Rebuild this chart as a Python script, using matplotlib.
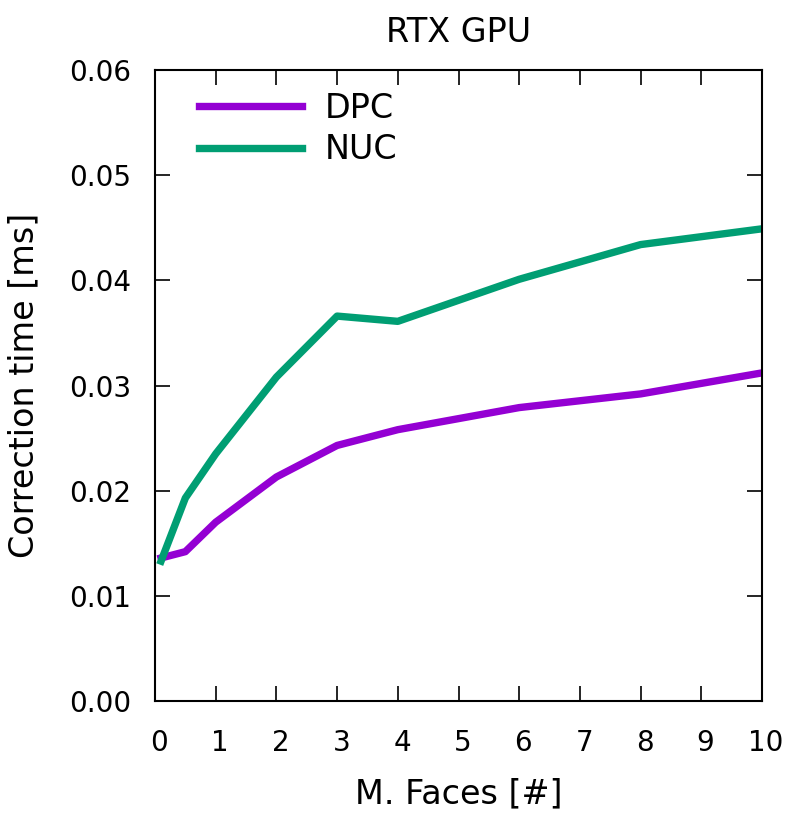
import matplotlib
matplotlib.use("Agg")
import matplotlib.pyplot as plt
from matplotlib.transforms import ScaledTranslation

# Data
faces = [0.1, 0.5, 1, 2, 3, 4, 6, 8, 10]
dpc_ms = [0.0136, 0.0142, 0.0170, 0.0213, 0.0243, 0.0258, 0.0279, 0.0292, 0.0312]
nuc_ms = [0.0133, 0.0193, 0.0235, 0.0308, 0.0366, 0.0361, 0.0401, 0.0434, 0.0449]

x_ticks = list(range(0, 11))
y_ticks = [0.00, 0.01, 0.02, 0.03, 0.04, 0.05, 0.06]

plt.rcParams["font.family"] = "DejaVu Sans"

fig = plt.figure(figsize=(7.97, 8.23), dpi=100)
ax = fig.add_axes([155 / 797, 1 - 701 / 823, (762 - 155) / 797, (701 - 70) / 823])

ax.plot(faces, dpc_ms, color="#9400D3", linewidth=5.3, label="DPC")
ax.plot(faces, nuc_ms, color="#009E73", linewidth=5.3, label="NUC")

ax.set_xlim(0, 10)
ax.set_ylim(0, 0.06)
ax.set_xticks(x_ticks)
ax.set_yticks(y_ticks)
ax.set_yticklabels([f"{v:.2f}" for v in y_ticks])
ax.tick_params(direction="in", length=11, width=1.2, labelsize=20,
               top=True, right=True)
ax.tick_params(axis="y", pad=17)
ax.tick_params(axis="x", pad=20)
# gnuplot puts x labels a touch right of the tick
for lab in ax.get_xticklabels():
    lab.set_transform(lab.get_transform() + ScaledTranslation(3 / 72, 0, fig.dpi_scale_trans))
for s in ax.spines.values():
    s.set_linewidth(1.5)

ax.set_xlabel("M. Faces [#]", fontsize=24, labelpad=15)
ax.set_ylabel("Correction time [ms]", fontsize=24, labelpad=21)
ax.set_title("RTX GPU", fontsize=24, pad=20)

ax.legend(loc="upper left", frameon=False, fontsize=24, handlelength=3.1,
          handletextpad=0.66, labelspacing=0.25, borderaxespad=0, borderpad=0,
          bbox_to_anchor=(44 / 607, 0.965))

fig.savefig("out.png", dpi=100)
